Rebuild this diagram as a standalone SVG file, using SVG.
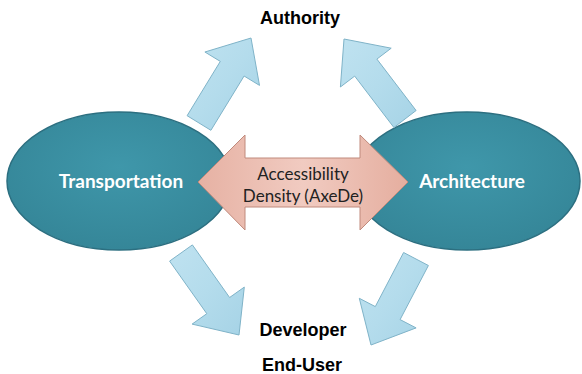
<svg xmlns="http://www.w3.org/2000/svg" width="582" height="374" viewBox="0 0 582 374">
  <defs>
    <radialGradient id="tealFill" cx="50%" cy="40%" r="60%">
      <stop offset="0" stop-color="#3f97aa"/>
      <stop offset="1" stop-color="#358698"/>
    </radialGradient>
    <linearGradient id="blueFill" x1="0" y1="0" x2="1" y2="1">
      <stop offset="0" stop-color="#bfe2f0"/>
      <stop offset="0.5" stop-color="#b4dcec"/>
      <stop offset="1" stop-color="#a6d3e6"/>
    </linearGradient>
    <linearGradient id="pinkFill" x1="0" y1="0" x2="1" y2="0">
      <stop offset="0" stop-color="#e6b1a3"/>
      <stop offset="0.5" stop-color="#f1cbc1"/>
      <stop offset="1" stop-color="#e5ae9f"/>
    </linearGradient>
  </defs>
  <style>
    .hub { fill: url(#tealFill); stroke: #2c6f80; stroke-width: 1.5; }
    .hub-label { font-family: Lato, "Liberation Sans", sans-serif; font-weight: bold; font-size: 19px; fill: #ffffff; text-anchor: middle; }
    .role { font-family: "Liberation Sans", Arial, sans-serif; font-weight: bold; font-size: 18px; fill: #000000; text-anchor: middle; }
    .flow { fill: url(#blueFill); stroke: #7fb3c8; stroke-width: 1; stroke-linejoin: miter; }
    .link { fill: url(#pinkFill); stroke: #c08a7c; stroke-width: 1; }
    .link-label { font-family: Lato, "Liberation Sans", sans-serif; font-size: 17px; fill: #222222; text-anchor: middle; }
  </style>

  <rect width="582" height="374" fill="#ffffff"/>

  <!-- discipline nodes -->
  <g id="transportation">
    <ellipse class="hub" cx="119" cy="181" rx="112" ry="69"/>
    <text class="hub-label" x="121" y="188">Transportation</text>
  </g>
  <g id="architecture">
    <ellipse class="hub" cx="467" cy="181" rx="113" ry="69"/>
    <text class="hub-label" x="472" y="188">Architecture</text>
  </g>

  <!-- stakeholder labels -->
  <g id="authority">
    <text class="role" x="300" y="24">Authority</text>
  </g>
  <g id="developer">
    <text class="role" x="303" y="336">Developer</text>
  </g>
  <g id="end-user">
    <text class="role" x="302" y="371">End-User</text>
  </g>

  <!-- block arrows -->
  <g id="connectors">
    <polygon class="flow" points="187.1,115.7 220.3,61.4 204.9,52.0 251,38 259.5,85.4 244.1,76.0 210.9,130.3"/>
    <polygon class="flow" points="416.1,110.5 376.9,59.1 391.2,48.2 344,39 340.4,87.0 354.7,76.1 393.9,127.5"/>
    <polygon class="flow" points="192.4,244.9 229.6,297.5 244.3,287.1 239,335 192.1,324.1 206.8,313.7 169.6,261.1"/>
    <polygon class="flow" points="403.6,252.5 375.3,306.6 359.3,298.3 371,345 416.1,327.9 400.1,319.6 428.4,265.5"/>
    <g id="axede-link">
      <polygon class="link" points="198,182 245,135 245,158 360,158 360,135 408,182 360,230 360,207 245,207 245,230"/>
      <text class="link-label" x="303" y="180">Accessibility</text>
      <text class="link-label" x="303" y="202">Density (AxeDe)</text>
    </g>
  </g>
</svg>
